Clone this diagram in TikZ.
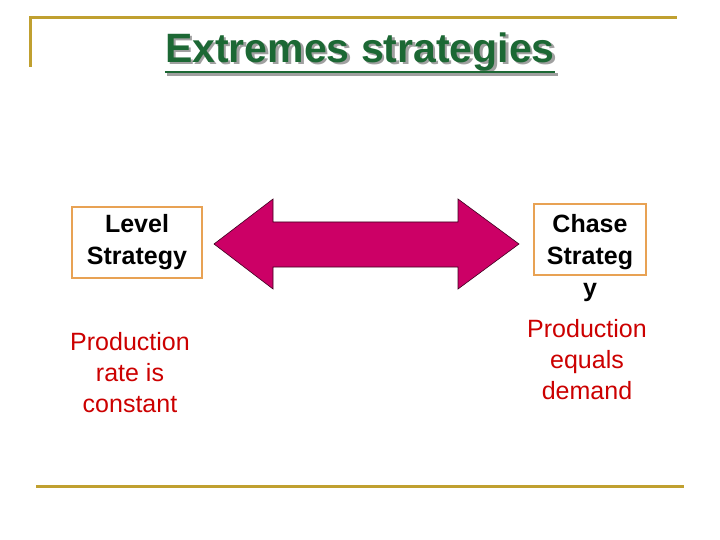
\documentclass[tikz,border=0pt]{standalone}
\usepackage{fontspec}
\setmainfont{Liberation Sans}
\usetikzlibrary{positioning}

\definecolor{framegold}{RGB}{192,160,48}
\definecolor{boxorange}{RGB}{232,162,84}
\definecolor{arrowred}{RGB}{204,0,102}
\definecolor{titlegreen}{RGB}{28,104,52}
\definecolor{shadowgray}{RGB}{160,160,160}
\definecolor{textred}{RGB}{204,0,0}

\tikzset{
  titletext/.style={font=\fontsize{41}{48}\selectfont\bfseries, inner sep=0pt, anchor=base},
  namebox/.style={draw=boxorange, line width=2pt, inner sep=0pt},
  nametext/.style={font=\fontsize{25}{32}\selectfont\bfseries, align=center, inner sep=0pt},
  notetext/.style={font=\fontsize{25}{31}\selectfont, text=textred, align=center, inner sep=0pt}
}

\begin{document}
\begin{tikzpicture}[x=1pt, y=-1pt]
    \useasboundingbox[fill=white] (0,0) rectangle (720,540);

    % Frame lines
    \draw[framegold, line width=3pt] (30,67) -- (30,18) -- (677,18);
    \draw[framegold, line width=3pt] (36,486) -- (684,486);

    % Title with shadow and underline
    \node[titletext, text=shadowgray] (titleshadow) at (362.5,65) {Extremes strategies};
    \draw[shadowgray, line width=2.5pt] (titleshadow.west |- 0,74.5) -- (titleshadow.east |- 0,74.5);
    \node[titletext, text=titlegreen] (title) at (360,63) {Extremes strategies};
    \draw[titlegreen, line width=2.5pt] (title.west |- 0,72) -- (title.east |- 0,72);

    % Left side
    \node[namebox, minimum width=130, minimum height=71] (levelbox) at (137,242.5) {};
    \node[nametext] (leveltext) at (levelbox.center) {Level\\Strategy};
    \node[notetext] (levelnote) at (130,373) {Production\\rate is\\constant};

    % Right side
    \node[namebox, minimum width=112, minimum height=71] (chasebox) at (590,239.5) {};
    \node[nametext] (chasetext) at (590,258) {Chase\\Strateg\\y};
    \node[notetext] (chasenote) at (587,360) {Production\\equals\\demand};

    % Double arrow
    \draw[fill=arrowred, draw=black!70!arrowred, line width=0.6pt]
        (214,244) -- (273,199) -- (273,222) -- (458,222) -- (458,199)
        -- (519,244) -- (458,289) -- (458,267) -- (273,267) -- (273,289) -- cycle;
\end{tikzpicture}
\end{document}
